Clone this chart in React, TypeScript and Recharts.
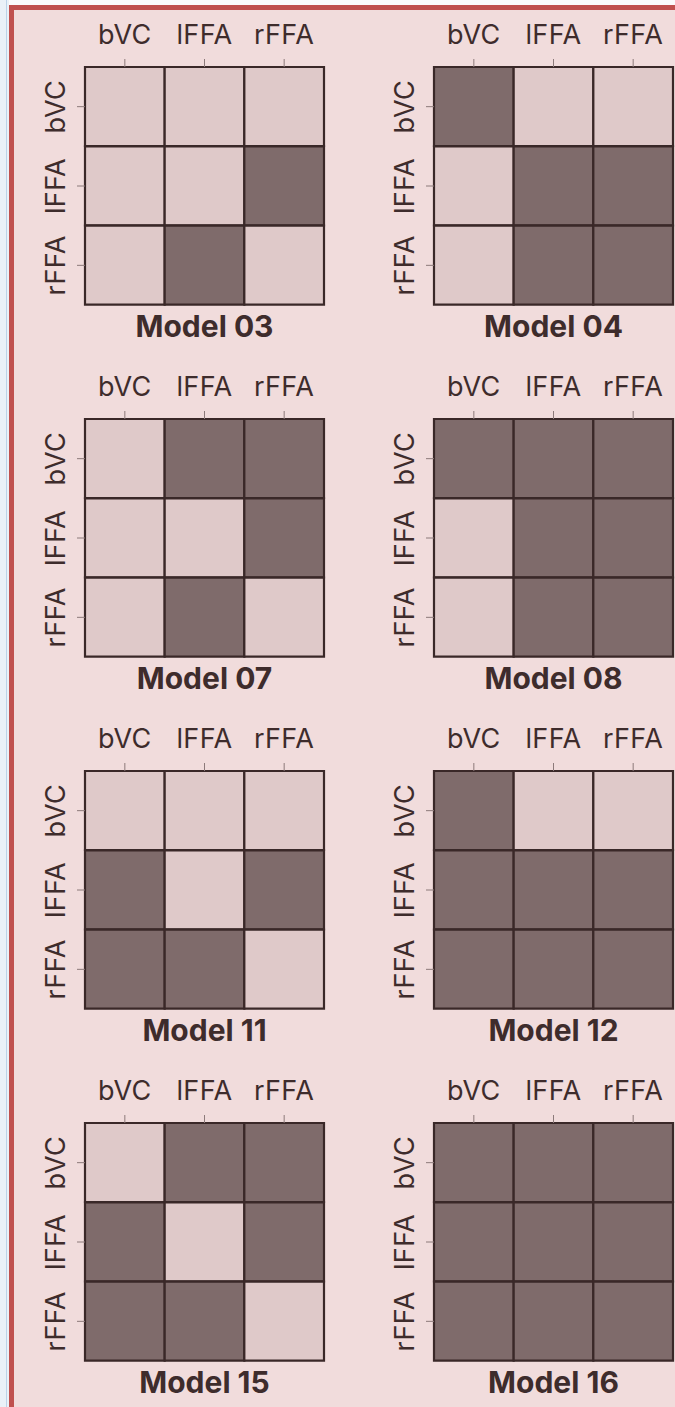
import { Bar, BarChart, Cell, XAxis, YAxis } from "recharts";

const regions = ["bVC", "lFFA", "rFFA"];
const colTicks = [0.5, 1.5, 2.5];

// 1 = connection present (dark cell), 0 = absent (light cell); rows/cols in region order
const model03 = [[0, 0, 0], [0, 0, 1], [0, 1, 0]];
const model04 = [[1, 0, 0], [0, 1, 1], [0, 1, 1]];
const model07 = [[0, 1, 1], [0, 0, 1], [0, 1, 0]];
const model08 = [[1, 1, 1], [0, 1, 1], [0, 1, 1]];
const model11 = [[0, 0, 0], [1, 0, 1], [1, 1, 0]];
const model12 = [[1, 0, 0], [1, 1, 1], [1, 1, 1]];
const model15 = [[0, 1, 1], [1, 0, 1], [1, 1, 0]];
const model16 = [[1, 1, 1], [1, 1, 1], [1, 1, 1]];

const titles = ["Model 03", "Model 04", "Model 07", "Model 08", "Model 11", "Model 12", "Model 15", "Model 16"];
const matrices = [model03, model04, model07, model08, model11, model12, model15, model16];

const BG = "#f1dcdc";
const LIGHT = "#dfc9c9";
const DARK = "#7f6b6b";
const LINE = "#3a2828";
const TEXT = "#3e2c2c";
const FONT = "Inter, 'Noto Sans', sans-serif";

function ColTick({ x, y, payload }: any) {
  return (
    <text x={x} y={y - 13} textAnchor="middle" fontSize={27} letterSpacing={0.4} fontFamily={FONT} fill={TEXT}>
      {regions[Math.floor(payload.value)]}
    </text>
  );
}

function RowTick({ x, y, payload }: any) {
  return (
    <text
      transform={`translate(${x - 10},${y}) rotate(-90)`}
      textAnchor="middle"
      fontSize={27}
      letterSpacing={0.4}
      fontFamily={FONT}
      fill={TEXT}
    >
      {payload.value}
    </text>
  );
}

function Panel({ title, cells, left, top }: { title: string; cells: number[][]; left: number; top: number }) {
  const rows = regions.map((region) => ({ region, c0: 1, c1: 1, c2: 1 }));
  return (
    <div style={{ position: "absolute", left, top, width: 340, height: 352 }}>
      <BarChart
        width={340}
        height={308}
        data={rows}
        layout="vertical"
        margin={{ top: 0, right: 16, bottom: 3, left: 0 }}
        barCategoryGap={0}
        barGap={0}
      >
        <XAxis
          type="number"
          domain={[0, 3]}
          ticks={colTicks}
          orientation="top"
          height={67}
          tickSize={8}
          axisLine={false}
          tickLine={{ stroke: "#8c7a7a" }}
          tick={<ColTick />}
          interval={0}
        />
        <YAxis
          type="category"
          dataKey="region"
          width={85}
          tickSize={8}
          axisLine={false}
          tickLine={{ stroke: "#8c7a7a" }}
          tick={<RowTick />}
          interval={0}
        />
        {[0, 1, 2].map((j) => (
          <Bar
            key={j}
            dataKey={`c${j}`}
            stackId="m"
            isAnimationActive={false}
            stroke={LINE}
            strokeWidth={2.2}
          >
            {cells.map((row, i) => (
              <Cell key={i} fill={row[j] ? DARK : LIGHT} />
            ))}
          </Bar>
        ))}
      </BarChart>
      <div
        style={{
          position: "absolute",
          left: 85,
          width: 239,
          top: 311,
          textAlign: "center",
          fontFamily: FONT,
          fontWeight: 700,
          fontSize: 30,
          lineHeight: "30px",
          color: TEXT,
        }}
      >
        {title}
      </div>
    </div>
  );
}

export default function App() {
  return (
    <div
      style={{
        position: "absolute",
        left: 0,
        top: 0,
        width: 675,
        height: 1407,
        overflow: "hidden",
        background: "#fbfcfd",
      }}
    >
      <div style={{ position: "absolute", left: 0, top: 0, width: 9, height: 1407, background: "#eaf1f8" }}>
        <div style={{ position: "absolute", left: 6, top: 0, width: 1, height: 1407, background: "#bcd3e8" }} />
      </div>
      <div
        style={{
          position: "absolute",
          left: 9,
          top: 5,
          width: 700,
          height: 1430,
          background: BG,
          borderLeft: "5px solid #c0514f",
          borderTop: "5px solid #c0514f",
        }}
      />
      {titles.map((t, k) => (
        <Panel key={t} title={t} cells={matrices[k]} left={(k % 2) * 349} top={Math.floor(k / 2) * 352} />
      ))}
    </div>
  );
}
